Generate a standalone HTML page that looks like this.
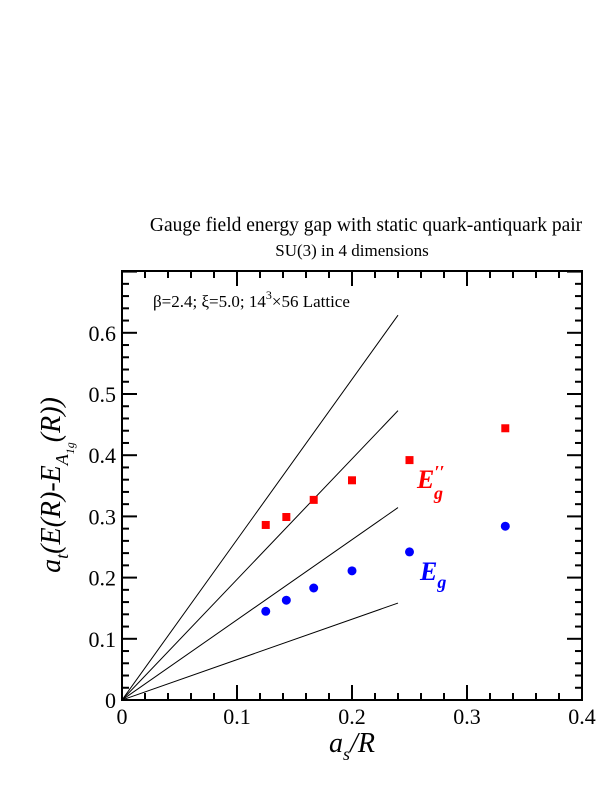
<!DOCTYPE html>
<html><head><meta charset="utf-8"><style>
body{margin:0;background:#fff;}
svg text{font-family:"Liberation Serif",serif;}
</style></head><body>
<svg id="chart" width="612" height="792" xmlns="http://www.w3.org/2000/svg">
<text x="366" y="231" font-size="19.5" text-anchor="middle">Gauge field energy gap with static quark-antiquark pair</text>
<text x="352" y="256" font-size="17" text-anchor="middle">SU(3) in 4 dimensions</text>
<g id="ticks"></g>
<g id="lines"></g>
<g id="marks"></g>
<rect x="122" y="271" width="460" height="429" fill="none" stroke="#000" stroke-width="2"/>
<text x="153" y="307" font-size="17">β=2.4;  ξ=5.0; 14<tspan dy="-8" font-size="12">3</tspan><tspan dy="8">×56 Lattice</tspan></text>
<text x="417" y="488" font-size="26" font-weight="bold" font-style="italic" fill="#f00">E<tspan font-size="18" dy="-10">′′</tspan></text>
<text x="434" y="499" font-size="18" font-weight="bold" font-style="italic" fill="#f00">g</text>
<text x="420" y="580" font-size="26" font-weight="bold" font-style="italic" fill="#00f">E<tspan font-size="18" dy="8">g</tspan></text>
<text x="352" y="752" font-size="28" text-anchor="middle" font-style="italic">a<tspan font-size="18" dy="8">s</tspan><tspan dy="-8">/R</tspan></text>
<text transform="translate(60,485) rotate(-90)" font-size="28" text-anchor="middle" font-style="italic">a<tspan font-size="18" dy="8">t</tspan><tspan dy="-8">(E(R)-E</tspan><tspan font-size="18" dy="8">A</tspan><tspan font-size="12" dy="6">1g</tspan><tspan dy="-14">(R))</tspan></text>
</svg>
<script>
const xTicks=[0,0.1,0.2,0.3,0.4];
const yTicks=[0,0.1,0.2,0.3,0.4,0.5,0.6];
const xVals=[0.125,0.1429,0.1667,0.2,0.25,0.3333];
const egpp=[0.286,0.299,0.327,0.359,0.392,0.444];
const eg=[0.145,0.163,0.183,0.211,0.242,0.284];
const lineSlopes=[2.62,1.97,1.31,0.66];
const lineXEnd=0.24;
const X=v=>122+v*1150, Y=v=>700-v*612;
const NS='http://www.w3.org/2000/svg';
function mk(t,a,p){const e=document.createElementNS(NS,t);for(const k in a)e.setAttribute(k,a[k]);p.appendChild(e);return e;}
const tg=document.getElementById('ticks');
for(let i=0;i<=20;i++){const v=i*0.02,L=i%5==0?15:7,x=X(v);
 const a=mk('line',{x1:x,x2:x,y1:700,y2:700-L,stroke:'#000','stroke-width':2},tg);
 
 const b=mk('line',{x1:x,x2:x,y1:271,y2:271+L,stroke:'#000','stroke-width':2},tg);
 }
for(let i=0;i<=35;i++){const v=i*0.02,L=i%5==0?15:7,y=Y(v);
 const a=mk('line',{x1:122,x2:122+L,y1:y,y2:y,stroke:'#000','stroke-width':2},tg);
 
 const b=mk('line',{x1:582,x2:582-L,y1:y,y2:y,stroke:'#000','stroke-width':2},tg);
 }
xTicks.forEach(v=>{const t=mk('text',{x:X(v),y:724,'font-size':22,'text-anchor':'middle'},tg);t.textContent=String(v);
 });
yTicks.forEach(v=>{const t=mk('text',{x:116,y:Y(v)+8,'font-size':22,'text-anchor':'end'},tg);t.textContent=String(v);
 });
const lg=document.getElementById('lines');
lineSlopes.forEach(s=>{const l=mk('line',{x1:X(0),y1:Y(0),x2:X(lineXEnd),y2:Y(s*lineXEnd),stroke:'#000','stroke-width':1},lg);
 });
const mg=document.getElementById('marks');
xVals.forEach((x,i)=>{
 const r=mk('rect',{x:X(x)-4,y:Y(egpp[i])-4,width:8,height:8,fill:'#f00'},mg);
 
 const c=mk('circle',{cx:X(x),cy:Y(eg[i]),r:4.5,fill:'#00f'},mg);
 });
</script>
</body></html>
